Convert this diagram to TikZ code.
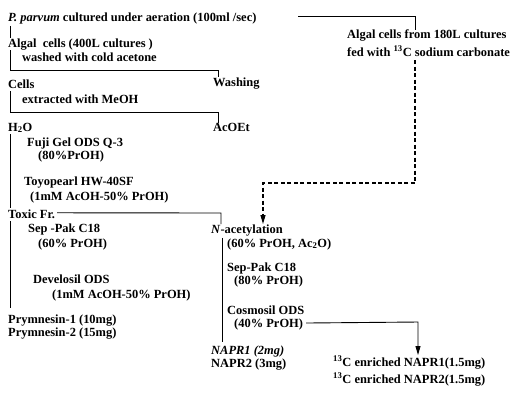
\documentclass[tikz,border=0pt]{standalone}
\usepackage{fontspec}
\setmainfont{Liberation Serif}
\usetikzlibrary{arrows.meta}
\begin{document}
\begin{tikzpicture}[x=1bp,y=-1bp,
  txt/.style={anchor=base west,inner sep=0pt,font=\bfseries\fontsize{12.5}{14}\selectfont},
  conn/.style={line width=0.9bp},
  dashconn/.style={line width=1.1bp,dash pattern=on 4bp off 2.5bp},
  tipped/.style={-{Triangle[length=9bp,width=5bp]}}]
\useasboundingbox (0,0) rectangle (511,396);
% texts
\node[txt] (p) at (8,21) {\textit{P. parvum}\ cultured under aeration (100ml /sec)};
\node[txt] (algal) at (8,47) {Algal\ \ cells (400L cultures )};
\node[txt] (washed) at (22,61) {washed with cold acetone};
\node[txt] (cells) at (8,88) {Cells};
\node[txt] (washing) at (213,86) {Washing};
\node[txt] (extracted) at (22,103) {extracted with MeOH};
\node[txt] (h2o) at (8,131) {H\textsubscript{2}O};
\node[txt] (acoet) at (213,131) {AcOEt};
\node[txt] (fuji) at (27,146) {Fuji Gel ODS Q-3};
\node[txt] (fujis) at (38,159) {(80\%PrOH)};
\node[txt] (toyo) at (24,185) {Toyopearl HW-40SF};
\node[txt] (toyos) at (30,200) {(1mM AcOH-50\% PrOH)};
\node[txt] (toxic) at (8,218) {Toxic Fr.};
\node[txt] (sepa) at (28,232) {Sep -Pak C18};
\node[txt] (sepas) at (38,247) {(60\% PrOH)};
\node[txt] (develo) at (33,283) {Develosil ODS};
\node[txt] (develos) at (52,298) {(1mM AcOH-50\% PrOH)};
\node[txt] (pry1) at (8,323) {Prymnesin-1 (10mg)};
\node[txt] (pry2) at (8,336) {Prymnesin-2 (15mg)};
\node[txt] (nacet) at (211,233) {\textit{N}-acetylation};
\node[txt] (nacets) at (227,247) {(60\% PrOH, Ac\textsubscript{2}O)};
\node[txt] (sepb) at (227,271) {Sep-Pak C18};
\node[txt] (sepbs) at (234,284) {(80\% PrOH)};
\node[txt] (cosmo) at (227,314) {Cosmosil ODS};
\node[txt] (cosmos) at (234,327) {(40\% PrOH)};
\node[txt] (napra) at (211,354) {\textit{NAPR1 (2mg)}};
\node[txt] (naprb) at (211,367) {NAPR2 (3mg)};
\node[txt] (lab1) at (347,38) {Algal cells from 180L cultures};
\node[txt] (lab2) at (347,56) {fed with \textsuperscript{13}C sodium carbonate};
\node[txt] (enra) at (333,366) {\textsuperscript{13}C enriched NAPR1(1.5mg)};
\node[txt] (enrb) at (333,383) {\textsuperscript{13}C enriched NAPR2(1.5mg)};
% coordinates
\coordinate (c1) at (415,30);
\coordinate (c2) at (415,60);
\coordinate (c3) at (263,224);
\coordinate (c4) at (418,355);
\coordinate (c5) at (222,342);
\coordinate (c6) at (10,308);
\coordinate (c7) at (10,208);
% connectors
\draw[conn] (p.south west -| 10,0) ++(0,2) -- (algal.north west -| 10,0);
\draw[conn] (10,50) |- (218,70) -- (washing.north west -| 218,0);
\draw[conn] (10,91) |- (218,112) -- (acoet.north west -| 218,0);
\draw[conn] (10,134) -- (c7);
\draw[conn] (toxic.east) ++(2,-1) -- (221,213) -- (nacet.north west -| 221,0);
\draw[conn] (nacet.south west -| 222,0) ++(0,2) -- (c5);
\draw[conn] (10,221) -- (c6);
\draw[conn] (298,16) -- (415,16) -- (c1);
\draw[dashconn,tipped] (c2) -- (415,183) -- (263,183) -- (c3);
\draw[conn,tipped] (cosmos.east) ++(3,-1) -- (418,322) -- (c4);
\end{tikzpicture}
\end{document}
